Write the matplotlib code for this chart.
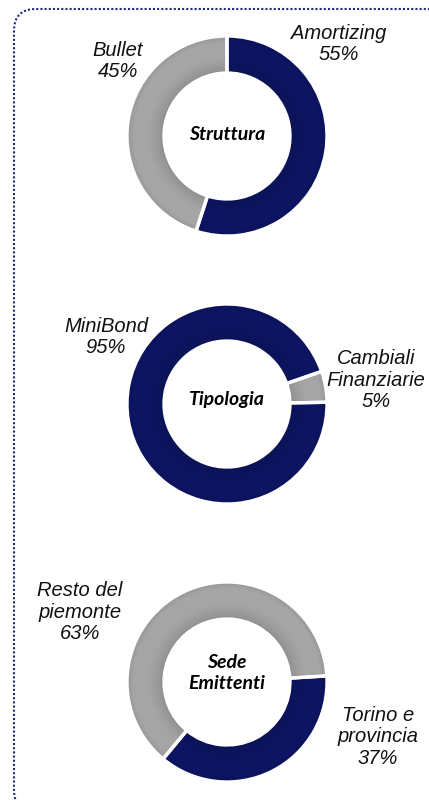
import matplotlib
matplotlib.use("Agg")
import matplotlib.pyplot as plt
from matplotlib.patches import FancyBboxPatch

# ---- data ----
titles = ["Struttura", "Tipologia", "Sede\nEmittenti"]

d1_labels = ["Amortizing", "Bullet"]
d1_values = [55, 45]

d2_labels = ["Cambiali\nFinanziarie", "MiniBond"]
d2_values = [5, 95]

d3_labels = ["Torino e\nprovincia", "Resto del\npiemonte"]
d3_values = [37, 63]

NAVY = "#0d1562"
GRAY = "#a5a5a5"

W, H = 429, 800
fig = plt.figure(figsize=(W / 100, H / 100), dpi=100)
ax = fig.add_axes([0, 0, 1, 1])

def Y(y):
    return H - y

label_font = dict(family=["Liberation Sans", "DejaVu Sans"], style="italic",
                  fontsize=14.5, color="#111111", ha="center", va="center",
                  linespacing=1.15)
title_font = dict(family=["Lato", "DejaVu Sans"], style="italic", weight="bold",
                  fontsize=14, color="#000000", ha="center", va="center",
                  linespacing=1.25)

R, WIDTH = 100, 37

def donut(cx, cy, values, colors, startangle):
    common = dict(startangle=startangle, counterclock=False,
                  center=(cx, Y(cy)), frame=True)
    ax.pie(values, colors=colors, radius=R,
           wedgeprops=dict(width=WIDTH, edgecolor="none", linewidth=0), **common)
    # soft inner shading near the inner edge
    for k, a in enumerate([0.13, 0.09, 0.06, 0.035, 0.015]):
        ax.pie(values, colors=["black"] * len(values),
               radius=R - WIDTH + 3 * (k + 1),
               wedgeprops=dict(width=3, edgecolor="none", linewidth=0, alpha=a),
               **common)
    # soft shading near the outer edge
    for k, a in enumerate([0.10, 0.05, 0.02]):
        ax.pie(values, colors=["black"] * len(values), radius=R - 2 * k,
               wedgeprops=dict(width=2, edgecolor="none", linewidth=0, alpha=a),
               **common)
    # white separators on top
    ax.pie(values, colors=colors, radius=R,
           wedgeprops=dict(width=WIDTH, facecolor="none", edgecolor="white",
                           linewidth=2.4), **common)

# donut 1
donut(227, 136, d1_values, [NAVY, GRAY], 90)
ax.text(339, Y(44), f"{d1_labels[0]}\n{d1_values[0]}%", **label_font)
ax.text(118, Y(61), f"{d1_labels[1]}\n{d1_values[1]}%", **label_font)
ax.text(227, Y(134), titles[0], **title_font)

# donut 2
donut(227, 404, d2_values, [GRAY, NAVY], 19)
ax.text(376, Y(380), f"{d2_labels[0]}\n{d2_values[0]}%", **label_font)
ax.text(106, Y(337), f"{d2_labels[1]}\n{d2_values[1]}%", **label_font)
ax.text(227, Y(399), titles[1], **title_font)

# donut 3
donut(227, 682, d3_values, [NAVY, GRAY], 3.5)
ax.text(378, Y(737), f"{d3_labels[0]}\n{d3_values[0]}%", **label_font)
ax.text(80, Y(612), f"{d3_labels[1]}\n{d3_values[1]}%", **label_font)
ax.text(227, Y(673), titles[2], **title_font)

ax.set_xlim(0, W)
ax.set_ylim(0, H)
ax.set_aspect("equal")
ax.axis("off")

# dotted rounded border (partly outside the canvas)
box = FancyBboxPatch((14, Y(812)), 440, 803,
                     boxstyle="round,pad=0,rounding_size=22",
                     fill=False, edgecolor="#1f2a78", linewidth=1.5,
                     linestyle=(0, (1, 1)), clip_on=False)
ax.add_patch(box)

fig.savefig("out.png", dpi=100)
